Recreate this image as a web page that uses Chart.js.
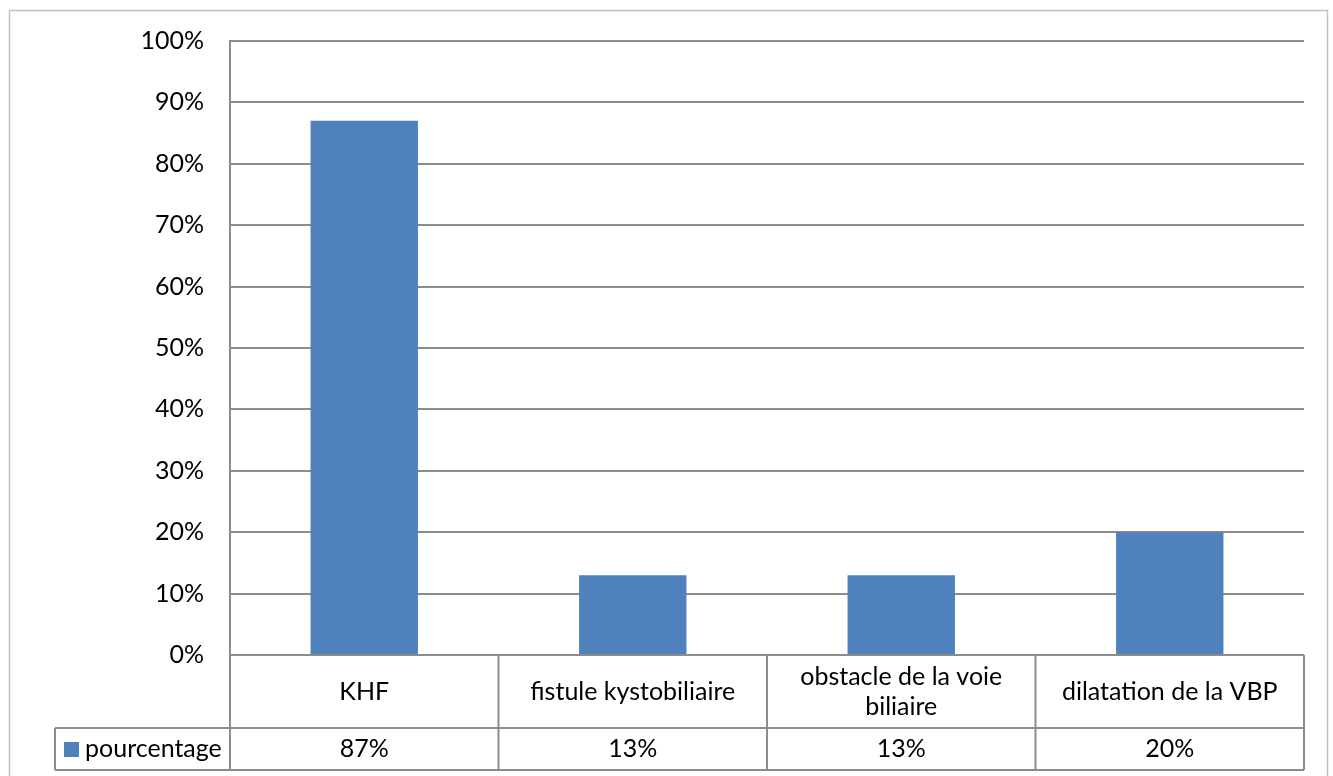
<!DOCTYPE html>
<html>
<head>
<meta charset="utf-8">
<script src="https://cdn.jsdelivr.net/npm/chart.js@4/dist/chart.umd.min.js"></script>
<style>
  html, body { margin: 0; padding: 0; background: #fff; }
  #wrap { position: relative; width: 1333px; height: 776px; }
</style>
</head>
<body>
<div id="wrap"><canvas id="chartPourcentage"></canvas></div>
<script>
const categories = ['KHF', 'fistule kystobiliaire', ['obstacle de la voie', 'biliaire'], 'dilatation de la VBP']
const pourcentage = [87, 13, 13, 20]
const serieNom = 'pourcentage'
const yTicks = [0, 10, 20, 30, 40, 50, 60, 70, 80, 90, 100]

const fuente = 'Lato, "Liberation Sans", sans-serif'
const azul = '#4F81BD'
const gris = '#8c8c8c'

// tabla de datos bajo el eje X (categorías + valores + leyenda)
const tablaDatos = {
    id: 'tablaDatos',
    afterDraw(chart) {
        const { ctx, chartArea, scales } = chart
        const x = scales.x
        const ancho = (chartArea.right - chartArea.left) / categories.length
        const y0 = chartArea.bottom
        const y1 = y0 + 73
        const y2 = y1 + 42
        const xLeyenda = 55

        ctx.save()
        ctx.strokeStyle = gris
        ctx.lineWidth = 2
        ctx.beginPath()
        // líneas horizontales
        ctx.moveTo(chartArea.left, y0); ctx.lineTo(chartArea.right, y0)
        ctx.moveTo(xLeyenda, y1); ctx.lineTo(chartArea.right, y1)
        ctx.moveTo(xLeyenda, y2); ctx.lineTo(chartArea.right, y2)
        // líneas verticales
        for (let i = 0; i <= categories.length; i++) {
            const xi = chartArea.left + i * ancho
            ctx.moveTo(xi, y0); ctx.lineTo(xi, y2)
        }
        ctx.moveTo(xLeyenda, y1); ctx.lineTo(xLeyenda, y2)
        ctx.stroke()

        ctx.fillStyle = '#000'
        ctx.font = '25px ' + fuente
        ctx.textAlign = 'center'
        ctx.textBaseline = 'middle'
        categories.forEach((cat, i) => {
            const cx = x.getPixelForTick(i)
            const lineas = Array.isArray(cat) ? cat : [cat]
            const alto = 30
            const inicio = (y0 + y1) / 2 - (lineas.length - 1) * alto / 2
            lineas.forEach((l, j) => ctx.fillText(l, cx, inicio + j * alto))
            ctx.fillText(pourcentage[i] + '%', cx, (y1 + y2) / 2)
        })

        // leyenda
        ctx.fillStyle = azul
        ctx.fillRect(64, (y1 + y2) / 2 - 7, 15, 15)
        ctx.fillStyle = '#000'
        ctx.textAlign = 'left'
        ctx.fillText(serieNom, 85, (y1 + y2) / 2)

        // marco exterior
        ctx.strokeStyle = '#c0c0c0'
        ctx.lineWidth = 1.5
        ctx.strokeRect(9.5, 10.5, 1318, 800)
        ctx.restore()
    }
}

const canvas = document.getElementById('chartPourcentage')
canvas.width = 1333
canvas.height = 776

const chart = new Chart(canvas.getContext('2d'), {
    type: 'bar',
    data: {
        labels: categories,
        datasets: [
            {
                label: serieNom,
                data: pourcentage,
                backgroundColor: azul,
                borderWidth: 0,
                barPercentage: 0.4,
                categoryPercentage: 1
            }
        ]
    },
    options: {
        responsive: false,
        animation: false,
        layout: { padding: { top: 40, right: 29, bottom: 121, left: 0 } },
        plugins: {
            legend: { display: false },
            tooltip: { enabled: false }
        },
        scales: {
            x: {
                display: false
            },
            y: {
                min: 0,
                max: 100,
                afterFit: scale => { scale.width = 230 },
                afterBuildTicks: scale => { scale.ticks = yTicks.map(v => ({ value: v })) },
                ticks: {
                    padding: 26,
                    color: '#000',
                    font: { family: fuente, size: 25 },
                    callback: v => v + '%'
                },
                grid: { color: gris, lineWidth: 2, drawTicks: false },
                border: { color: gris, width: 2 }
            }
        }
    },
    plugins: [tablaDatos]
})
</script>
</body>
</html>
